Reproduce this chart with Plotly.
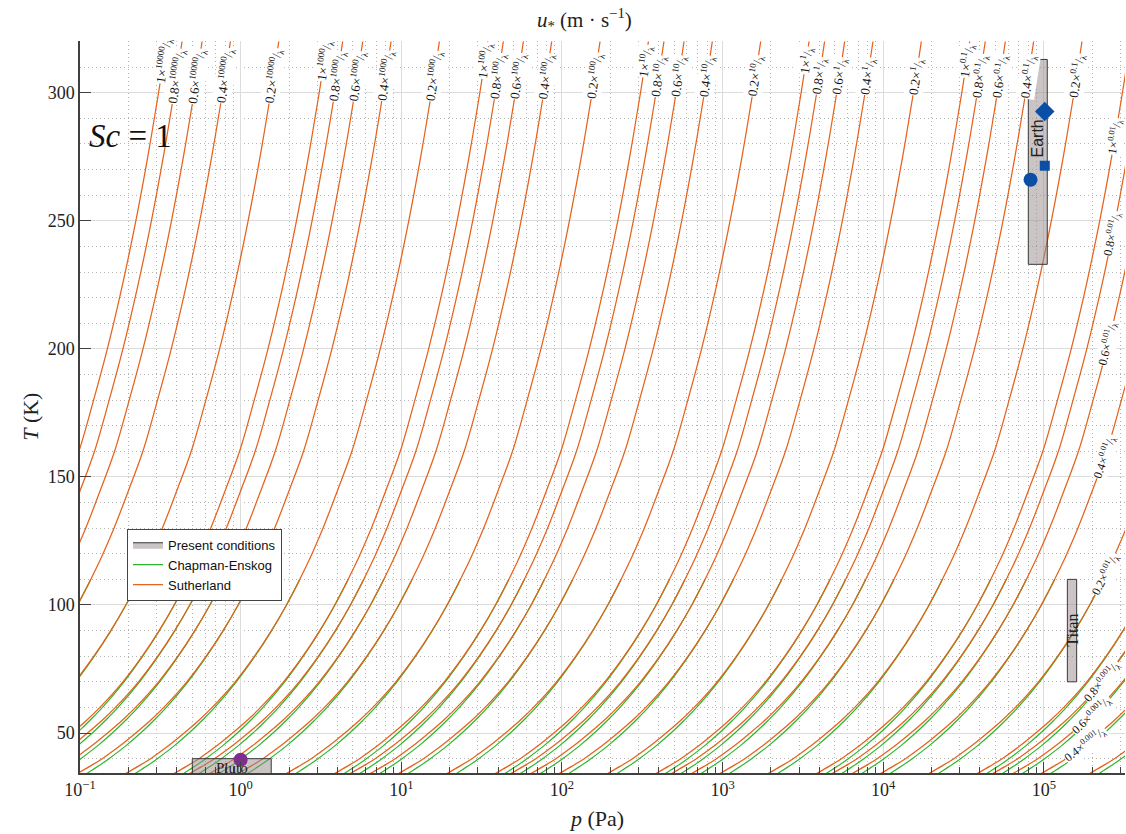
import numpy as np
import plotly.graph_objects as go

# ---------------- data ----------------
# Reference contour  u* = 1 x 1/lambda : temperature (K) vs pressure (Pa), Sutherland viscosity
base_T = [34, 37, 40, 45, 50, 55, 60, 70, 80, 90, 100, 115, 130, 145, 160, 180, 200, 225, 250, 275, 300, 320]
sutherland_p = [38, 46, 55, 71, 89, 110, 133, 185, 244, 311, 386, 511, 651, 805, 985, 1215, 1480, 1838, 2226, 2641, 3083, 3453]
# Same contour with Chapman-Enskog viscosity (only differs visibly at low T)
chapman_T = [34, 37, 40, 45, 50, 55, 60, 70, 80, 90, 100, 110]
chapman_p = [43.6, 51.8, 60.6, 77.1, 95.4, 115.5, 138, 188, 245.8, 311.8, 386, 467]

# contour families:  factor x scale / lambda
factors = [1, 0.8, 0.6, 0.4, 0.2]
factor_labels = ["1", "0.8", "0.6", "0.4", "0.2"]
scales = [10000, 1000, 100, 10, 1, 0.1, 0.01, 0.001]
scale_labels = ["10000", "1000", "100", "10", "1", "0.1", "0.01", "0.001"]

# present conditions (pressure range Pa, temperature range K)
earth_p = [8.0e4, 1.05e5]
earth_T = [233, 313]
titan_p = [1.4e5, 1.6e5]
titan_T = [70, 110]
pluto_p = [0.5, 1.55]
pluto_T = [30, 40]
earth_circle = (8.26e4, 266)
earth_square = (1.013e5, 271.5)
earth_diamond = (1.013e5, 292.7)
pluto_point = (1.0, 39.6)

# ---------------- layout constants ----------------
W, H = 1126, 834
PL, PR, PT, PB = 80, 1125, 41, 773.3   # wanted plot-area edges on screen
ML, MT = PL, PT
MR = W - PR
MB = H - PB
XR = [-1, 5.505]
YR = [34.4, 320.2]
px_per_dec = (PR - PL) / (XR[1] - XR[0])
px_per_K = (PB - PT) / (YR[1] - YR[0])


def px(x):
    return (x - PL) / (PR - PL)


def py(y):
    return (PB - y) / (PB - PT)


ORANGE = "#e5621c"
GREEN = "#2db52d"
SERIF = "Liberation Serif"
SANS = "Liberation Sans"

# label positions (temperature along each contour where its label sits)
label_T = {}
for N in scales[:6]:
    for c in factors:
        label_T[(N, c)] = 312.5 if c == 1 else 306.5
label_T.update({(0.01, 1): 283, (0.01, 0.8): 245, (0.01, 0.6): 202, (0.01, 0.4): 158,
                (0.01, 0.2): 112, (0.001, 0.8): 70, (0.001, 0.6): 57, (0.001, 0.4): 45.5})

fig = go.Figure()


def family_xy(Ts, base_p):
    xs, ys = [], []
    for N in scales:
        for c in factors:
            xs += [p / (c * N) for p in base_p] + [None]
            ys += list(Ts) + [None]
    return xs, ys


gx, gy = family_xy(chapman_T, chapman_p)
fig.add_trace(go.Scatter(x=gx, y=gy, mode="lines", name="Chapman-Enskog",
                         line=dict(color=GREEN, width=1.2, shape="spline"),
                         legendrank=2, hoverinfo="skip"))
sx, sy = family_xy(base_T, sutherland_p)
fig.add_trace(go.Scatter(x=sx, y=sy, mode="lines", name="Sutherland",
                         line=dict(color=ORANGE, width=1.25, shape="spline"),
                         legendrank=3, hoverinfo="skip"))


def box(pr, tr, name, show):
    fig.add_trace(go.Scatter(
        x=[pr[0], pr[1], pr[1], pr[0], pr[0]],
        y=[tr[0], tr[0], tr[1], tr[1], tr[0]],
        mode="lines", fill="toself", fillcolor="rgba(150,138,138,0.5)",
        line=dict(color="#3a3a3a", width=1), name=name, showlegend=show,
        legendrank=1, hoverinfo="skip"))


box(earth_p, earth_T, "Present conditions", True)
box(titan_p, titan_T, "Titan", False)
box(pluto_p, pluto_T, "Pluto", False)

BLUE = "#0a4ea6"
fig.add_trace(go.Scatter(x=[earth_circle[0]], y=[earth_circle[1]], mode="markers",
                         marker=dict(symbol="circle", size=14, color=BLUE), showlegend=False))
fig.add_trace(go.Scatter(x=[earth_square[0]], y=[earth_square[1]], mode="markers",
                         marker=dict(symbol="square", size=10, color=BLUE), showlegend=False))
fig.add_trace(go.Scatter(x=[earth_diamond[0]], y=[earth_diamond[1]], mode="markers",
                         marker=dict(symbol="diamond", size=15, color=BLUE), showlegend=False))
fig.add_trace(go.Scatter(x=[pluto_point[0]], y=[pluto_point[1]], mode="markers",
                         marker=dict(symbol="circle", size=14, color="#7e2f8e"), showlegend=False))

# contour labels
logp_base = np.log10(sutherland_p)
annotations = []
for i, N in enumerate(scales):
    for j, c in enumerate(factors):
        if (N, c) not in label_T:
            continue
        T0 = label_T[(N, c)]
        lp = float(np.interp(T0, base_T, logp_base)) - np.log10(c * N)
        if lp > XR[1] - 0.02:
            continue
        d1 = float(np.interp(T0 + 3, base_T, logp_base)) - float(np.interp(T0 - 3, base_T, logp_base))
        ang = np.degrees(np.arctan2(6 * px_per_K, d1 * px_per_dec))
        annotations.append(dict(
            x=lp, y=T0, xref="x", yref="y", showarrow=False,
            text=f"{factor_labels[j]}×<sup>{scale_labels[i]}</sup>/<sub>λ</sub>",
            textangle=-ang, font=dict(family=SERIF, size=13 if N > 0.01 else 12, color="#111"),
            bgcolor="white", borderpad=0, xanchor="center", yanchor="middle"))

# text labels
annotations += [
    dict(x=np.log10(9.15e4), y=282, xref="x", yref="y", text="Earth", showarrow=False,
         textangle=-90, font=dict(family=SANS, size=16, color="#222")),
    dict(x=np.log10(1.5e5), y=90, xref="x", yref="y", text="Titan", showarrow=False,
         textangle=-90, font=dict(family=SERIF, size=16, color="#222")),
    dict(x=np.log10(0.88), y=36.5, xref="x", yref="y", text="Pluto", showarrow=False,
         font=dict(family=SERIF, size=15, color="#222")),
    dict(x=px(130), y=py(136), xref="paper", yref="paper", xanchor="center", yanchor="middle",
         text="<i>Sc</i> = 1", showarrow=False, font=dict(family=SERIF, size=33, color="#111")),
    dict(x=px(584), y=py(19), xref="paper", yref="paper", xanchor="center", yanchor="middle",
         text="<i>u</i><sub>*</sub> (m · s<sup>−1</sup>)", showarrow=False,
         font=dict(family=SERIF, size=21, color="#222")),
    dict(x=px(596), y=py(819), xref="paper", yref="paper", xanchor="center", yanchor="middle",
         text="<i>p</i> (Pa)", showarrow=False, font=dict(family=SERIF, size=22, color="#222")),
    dict(x=px(31), y=py(417), xref="paper", yref="paper", xanchor="center", yanchor="middle",
         text="<i>T</i> (K)", showarrow=False, textangle=-90,
         font=dict(family=SERIF, size=22, color="#222")),
]

major_x = [10.0 ** k for k in range(-1, 6)]
major_x_text = [f"10<sup>{'−' if k < 0 else ''}{abs(k)}</sup>" for k in range(-1, 6)]
minor_x = [m * 10.0 ** k for k in range(-1, 6) for m in range(2, 10)]

MINOR_GRID = dict(showgrid=True, gridcolor="#b4b4b4", griddash="1px,3px", gridwidth=1)

fig.update_layout(
    template="none",
    width=W, height=H, margin=dict(l=ML, r=MR, t=MT, b=MB, autoexpand=False),
    plot_bgcolor="white", paper_bgcolor="white",
    showlegend=True,
    legend=dict(x=px(127), y=py(529),
                xanchor="left", yanchor="top", bgcolor="white",
                bordercolor="#444", borderwidth=1,
                font=dict(family=SANS, size=13, color="#111"),
                tracegroupgap=0, itemwidth=30),
    annotations=annotations,
    xaxis=dict(type="log", range=XR, tickmode="array", tickvals=major_x, ticktext=major_x_text,
               automargin=False,
               showline=True, linecolor="#404040", linewidth=1.5, mirror=False,
               ticks="inside", ticklen=11, tickcolor="#404040", tickwidth=1,
               showgrid=True, gridcolor="#dcdcdc", gridwidth=1, zeroline=False,
               tickfont=dict(family=SERIF, size=18, color="#222"),
               minor=dict(tickmode="array", tickvals=minor_x, ticks="inside", ticklen=6,
                          tickcolor="#404040", **MINOR_GRID)),
    yaxis=dict(range=YR, tick0=0, dtick=50, automargin=False,
               showline=True, linecolor="#404040", linewidth=1.5, mirror=False,
               ticks="inside", ticklen=11, tickcolor="#404040", tickwidth=1,
               showgrid=True, gridcolor="#dcdcdc", gridwidth=1, zeroline=False,
               tickfont=dict(family=SERIF, size=18, color="#222"),
               minor=dict(tick0=0, dtick=10, ticks="", **MINOR_GRID)),
)

fig.write_html(
    "out.html",
    config={"displayModeBar": False},
    post_script=("document.body.style.margin='0';"
                 "document.body.style.overflow='hidden';"
                 "document.documentElement.style.overflow='hidden';"),
)
